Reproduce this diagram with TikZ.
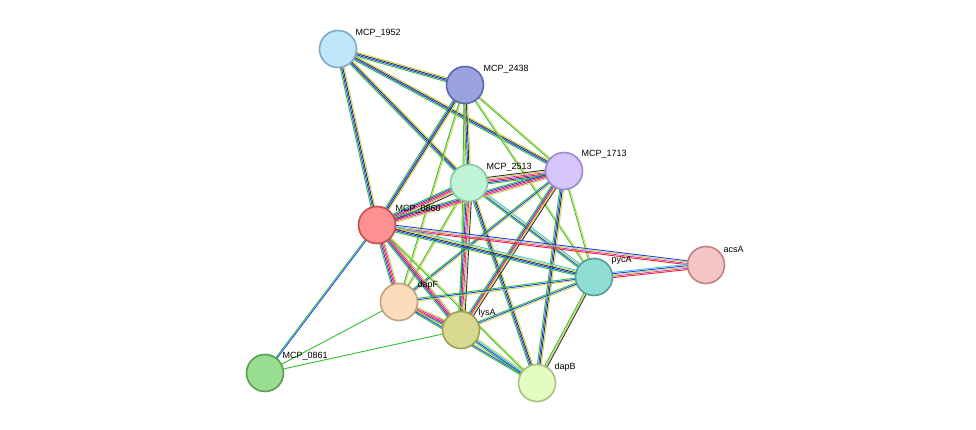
\documentclass[tikz,border=0pt]{standalone}
\usepackage{fontspec}
\setmainfont{Liberation Sans}
\usetikzlibrary{calc}
\definecolor{tm}{HTML}{C8D44A}\definecolor{co}{HTML}{333333}\definecolor{db}{HTML}{40C8E0}
\definecolor{ex}{HTML}{D040C0}\definecolor{nb}{HTML}{30C030}\definecolor{fu}{HTML}{FF2020}\definecolor{oc}{HTML}{2040FF}
\newcommand\bund[4]{\foreach \cc [count=\i] in {#4}{\pgfmathsetmacro\o{(\i-(#3+1)/2)*1.3}
 \draw[\cc,line width=0.9pt] ($(#1)!\o pt!90:(#2)$) -- ($(#2)!\o pt!-90:(#1)$);}}
\tikzset{prot/.style={circle,minimum size=37pt,line width=1.6pt,inner sep=0},
 lab/.style={font=\fontsize{9}{10}\selectfont,anchor=south west}}
\begin{document}
\begin{tikzpicture}[x=1pt,y=-1pt]
\useasboundingbox (0,0) rectangle (976,430);
\coordinate (a) at (338,49); \coordinate (b) at (465,85); \coordinate (c) at (469,183);
\coordinate (d) at (564,171); \coordinate (e) at (377,225); \coordinate (f) at (706,265);
\coordinate (g) at (594,277); \coordinate (h) at (399,302); \coordinate (i) at (461,330);
\coordinate (j) at (265,373); \coordinate (k) at (537,383);
\bund{a}{b}{4}{nb,oc,co,tm}\bund{a}{c}{4}{nb,oc,co,tm}\bund{a}{d}{4}{nb,oc,co,tm}\bund{a}{e}{4}{nb,oc,co,tm}
\bund{b}{c}{4}{nb,oc,co,tm}\bund{b}{d}{2}{nb,tm}\bund{b}{e}{4}{nb,oc,co,tm}\bund{b}{g}{2}{nb,tm}
\bund{b}{h}{2}{nb,tm}\bund{b}{i}{2}{nb,tm}
\bund{c}{d}{6}{nb,oc,fu,ex,tm,co}\bund{c}{e}{6}{nb,oc,fu,ex,tm,co}\bund{c}{g}{4}{nb,oc,tm,db}
\bund{c}{h}{2}{nb,tm}\bund{c}{i}{6}{nb,oc,fu,ex,tm,co}\bund{c}{k}{4}{nb,oc,co,tm}
\bund{d}{e}{5}{nb,oc,fu,ex,tm}\bund{d}{g}{2}{nb,tm}\bund{d}{i}{5}{nb,oc,fu,tm,co}\bund{d}{h}{3}{nb,oc,tm}
\bund{d}{k}{4}{nb,oc,co,tm}
\bund{e}{f}{4}{fu,ex,tm,oc}\bund{e}{g}{5}{nb,oc,co,tm,db}\bund{e}{h}{5}{nb,oc,fu,ex,tm}
\bund{e}{i}{5}{nb,oc,fu,ex,tm}\bund{e}{k}{2}{nb,tm}\bund{e}{j}{2}{nb,oc}
\bund{g}{f}{5}{fu,ex,tm,oc,db}\bund{g}{h}{3}{nb,oc,tm}\bund{g}{i}{3}{nb,oc,tm}\bund{g}{k}{3}{nb,tm,co}
\bund{h}{i}{5}{nb,oc,fu,ex,tm}\bund{h}{k}{3}{nb,oc,tm}\bund{h}{j}{1}{nb}
\bund{i}{k}{4}{nb,oc,db,tm}\bund{i}{j}{1}{nb}
\node[prot,fill={rgb,255:red,192;green,230;blue,250},draw={rgb,255:red,127;green,168;blue,200}] (A) at (a) {};
\node[prot,fill={rgb,255:red,154;green,163;blue,224},draw={rgb,255:red,90;green,104;blue,176}] (B) at (b) {};
\node[prot,fill={rgb,255:red,191;green,245;blue,214},draw={rgb,255:red,136;green,200;blue,160}] (C) at (c) {};
\node[prot,fill={rgb,255:red,213;green,197;blue,248},draw={rgb,255:red,154;green,136;blue,208}] (D) at (d) {};
\node[prot,fill={rgb,255:red,255;green,144;blue,144},draw={rgb,255:red,192;green,80;blue,80}] (E) at (e) {};
\node[prot,fill={rgb,255:red,245;green,197;blue,197},draw={rgb,255:red,192;green,128;blue,128}] (F) at (f) {};
\node[prot,fill={rgb,255:red,144;green,221;blue,213},draw={rgb,255:red,80;green,160;blue,152}] (G) at (g) {};
\node[prot,fill={rgb,255:red,253;green,220;blue,188},draw={rgb,255:red,192;green,160;blue,128}] (H) at (h) {};
\node[prot,fill={rgb,255:red,216;green,216;blue,144},draw={rgb,255:red,160;green,160;blue,80}] (I) at (i) {};
\node[prot,fill={rgb,255:red,152;green,221;blue,144},draw={rgb,255:red,88;green,160;blue,80}] (J) at (j) {};
\node[prot,fill={rgb,255:red,229;green,252;blue,192},draw={rgb,255:red,168;green,192;blue,128}] (K) at (k) {};
\node[lab] at ($(a)+(14,-8)$) {MCP\_1952};
\node[lab] at ($(b)+(15,-8)$) {MCP\_2438};
\node[lab] at ($(c)+(14,-8)$) {MCP\_2513};
\node[lab] at ($(d)+(14,-9)$) {MCP\_1713};
\node[lab] at ($(e)+(15,-8)$) {MCP\_0860};
\node[lab] at ($(f)+(14,-9)$) {acsA};
\node[lab] at ($(g)+(14,-9)$) {pycA};
\node[lab] at ($(h)+(15,-9)$) {dapF};
\node[lab] at ($(i)+(14,-9)$) {lysA};
\node[lab] at ($(j)+(14,-9)$) {MCP\_0861};
\node[lab] at ($(k)+(14,-8)$) {dapB};
\end{tikzpicture}
\end{document}
